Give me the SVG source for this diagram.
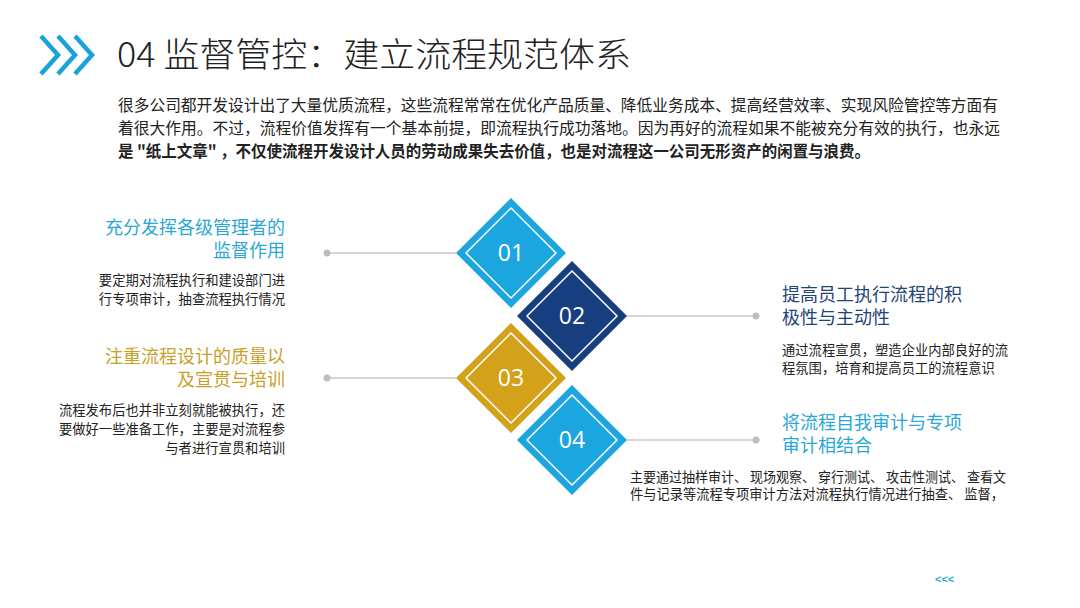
<svg xmlns="http://www.w3.org/2000/svg" width="1080" height="608" viewBox="0 0 1080 608">
<style>
.t{font-family:"Noto Sans CJK SC","Noto Sans",sans-serif;}
.body{font-size:13.3px;fill:#222;}
.para{font-size:16px;fill:#222;}
.h{font-size:18px;font-family:"Liberation Sans","Noto Sans CJK SC",sans-serif;}
.num{font-family:"Open Sans","Noto Sans",sans-serif;font-size:23px;fill:#fff;text-anchor:middle;}
.inner{fill:none;stroke:#fff;stroke-width:1.5;}
.conn{stroke:#c8c8c8;stroke-width:1.5;fill:none;}
.dot{fill:#bdbdbd;}
.chev{fill:none;stroke:#1aa3da;stroke-width:4.5;}
</style>
<rect width="1080" height="608" fill="#fff"/>
<g id="title">
<polyline class="chev" points="41,36 58,55 41,74"/>
<polyline class="chev" points="58,36 75,55 58,74"/>
<polyline class="chev" points="75,36 92,55 75,74"/>
<text class="t" x="117" y="67" font-size="34" font-weight="300" fill="#222" textLength="514" lengthAdjust="spacingAndGlyphs">04 监督管控：建立流程规范体系</text>
</g>
<g id="intro" class="t para">
<text x="118" y="111" textLength="880" lengthAdjust="spacingAndGlyphs">很多公司都开发设计出了大量优质流程，这些流程常常在优化产品质量、降低业务成本、提高经营效率、实现风险管控等方面有</text>
<text x="118" y="134" textLength="882" lengthAdjust="spacingAndGlyphs">着很大作用。不过，流程价值发挥有一个基本前提，即流程执行成功落地。因为再好的流程如果不能被充分有效的执行，也永远</text>
<text x="118" y="157" font-weight="bold" textLength="752" lengthAdjust="spacingAndGlyphs">是 "纸上文章" ，不仅使流程开发设计人员的劳动成果失去价值，也是对流程这一公司无形资产的闲置与浪费。</text>
</g>
<g id="connectors">
<line class="conn" x1="327" y1="253" x2="456" y2="253"/>
<circle class="dot" cx="327" cy="253" r="3.5"/>
<line class="conn" x1="627" y1="316" x2="756" y2="316"/>
<circle class="dot" cx="756" cy="316" r="3.5"/>
<line class="conn" x1="327" y1="378" x2="456" y2="378"/>
<circle class="dot" cx="327" cy="378" r="3.5"/>
<line class="conn" x1="627" y1="440" x2="756" y2="440"/>
<circle class="dot" cx="756" cy="440" r="3.5"/>
</g>
<g id="node01">
<polygon points="511,198 566,253 511,308 456,253" fill="#1ba6e0"/>
<polygon class="inner" points="511,208 556,253 511,298 466,253"/>
<text class="num" x="511" y="261">01</text>
</g>
<g id="node02">
<polygon points="572,261 627,316 572,371 517,316" fill="#173f80"/>
<polygon class="inner" points="572,271 617,316 572,361 527,316"/>
<text class="num" x="572" y="324">02</text>
</g>
<g id="node03">
<polygon points="511,323 566,378 511,433 456,378" fill="#d3a21a"/>
<polygon class="inner" points="511,333 556,378 511,423 466,378"/>
<text class="num" x="511" y="386">03</text>
</g>
<g id="node04">
<polygon points="572,385 627,440 572,495 517,440" fill="#1ba6e0"/>
<polygon class="inner" points="572,395 617,440 572,485 527,440"/>
<text class="num" x="572" y="448">04</text>
</g>
<g id="item01" class="t">
<text class="h" text-anchor="end" fill="#2aa7d6"><tspan x="285" y="234">充分发挥各级管理者的</tspan><tspan x="285" y="257">监督作用</tspan></text>
<text class="body" text-anchor="end"><tspan x="285" y="285">要定期对流程执行和建设部门进</tspan><tspan x="285" y="304">行专项审计，抽查流程执行情况</tspan></text>
</g>
<g id="item02" class="t">
<text class="h" fill="#1f4478"><tspan x="782" y="301">提高员工执行流程的积</tspan><tspan x="782" y="324">极性与主动性</tspan></text>
<text class="body"><tspan x="782" y="355">通过流程宣贯，塑造企业内部良好的流</tspan><tspan x="782" y="373">程氛围，培育和提高员工的流程意识</tspan></text>
</g>
<g id="item03" class="t">
<text class="h" text-anchor="end" fill="#c9a02a"><tspan x="285" y="363">注重流程设计的质量以</tspan><tspan x="285" y="386">及宣贯与培训</tspan></text>
<text class="body" text-anchor="end"><tspan x="285" y="415">流程发布后也并非立刻就能被执行，还</tspan><tspan x="285" y="434">要做好一些准备工作，主要是对流程参</tspan><tspan x="285" y="453">与者进行宣贯和培训</tspan></text>
</g>
<g id="item04" class="t">
<text class="h" fill="#2aa7d6"><tspan x="782" y="429">将流程自我审计与专项</tspan><tspan x="782" y="452">审计相结合</tspan></text>
<text class="body" x="630" y="482" textLength="376" lengthAdjust="spacingAndGlyphs">主要通过抽样审计、 现场观察、 穿行测试、 攻击性测试、 查看文</text>
<text class="body" x="630" y="499" textLength="374" lengthAdjust="spacingAndGlyphs">件与记录等流程专项审计方法对流程执行情况进行抽查、 监督，</text>
</g>
<g id="nav">
<text x="935" y="583" font-family="Liberation Sans, sans-serif" font-size="11" font-weight="bold" fill="#3aa8c8">&lt;&lt;&lt;</text>
</g>
</svg>
